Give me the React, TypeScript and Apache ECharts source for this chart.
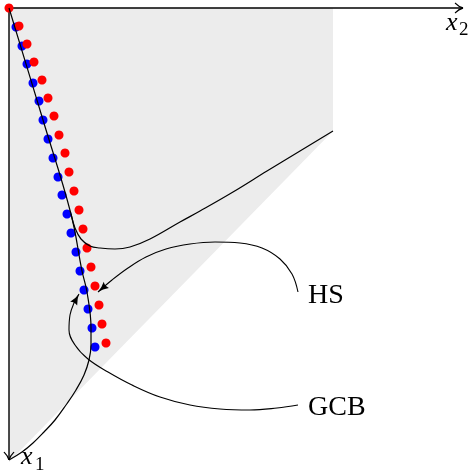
import { useEffect, useRef } from "react";
import * as echarts from "echarts";

// Data units: 1 unit = 10 px on both axes; x2 to the right, x1 downward, origin top-left.
const redX = [0, 1.0, 1.8, 2.5, 3.3, 3.9, 4.5, 5.0, 5.6, 6.0, 6.5, 7.0, 7.4, 7.8, 8.2, 8.6, 9.0, 9.3, 9.7];
const redY = [0, 1.8, 3.6, 5.4, 7.2, 9.0, 10.8, 12.7, 14.5, 16.4, 18.3, 20.2, 22.1, 24.0, 25.9, 27.8, 29.7, 31.6, 33.5];

const blueX = [0.7, 1.3, 1.8, 2.4, 3.0, 3.4, 3.9, 4.4, 4.9, 5.3, 5.8, 6.2, 6.7, 7.1, 7.5, 7.9, 8.3, 8.6];
const blueY = [1.9, 3.8, 5.6, 7.5, 9.3, 11.2, 13.1, 15.0, 16.9, 18.7, 20.6, 22.5, 24.4, 26.3, 28.2, 30.1, 32.0, 33.9];

// main boundary curve from the origin back to the end of the x1 axis
const mainX = [0, 3.4, 6.2, 7.3, 7.8, 8.2, 8.2, 8.0, 7.5, 6.7, 5.7, 4.6, 3.5, 2.4, 1.3, 0];
const mainY = [0, 11.2, 20.6, 26.3, 28.4, 32.0, 33.7, 35.2, 36.7, 38.2, 39.7, 41.2, 42.4, 43.5, 44.4, 45.2];

// curve branching off towards the corner of the shaded region
const branchX = [6.2, 6.6, 7.2, 8.1, 9.1, 10.6, 12.1, 14.1, 17.1, 19.1, 22.4, 25.8, 29.1, 32.4];
const branchY = [20.6, 22.0, 23.1, 23.8, 24.0, 24.1, 23.9, 23.1, 21.4, 20.3, 18.4, 16.3, 14.3, 12.3];

// shaded region: lower edge, filled up to x1 = 0
const shadeX = [0, 32.4];
const shadeY = [45.4, 12.3];

// annotation arrows (from label to tip)
const hsArrowX = [28.9, 28.3, 27.1, 25.3, 23.1, 20.6, 18.1, 15.7, 13.7, 11.9, 10.3, 8.9];
const hsArrowY = [28.4, 26.6, 25.1, 24.0, 23.5, 23.4, 23.6, 24.1, 24.9, 26.0, 27.2, 28.4];
const gcbArrowX = [28.9, 26.8, 24.1, 21.1, 18.1, 15.1, 12.3, 9.9, 7.9, 6.6, 6.0, 6.1, 6.5, 7.0];
const gcbArrowY = [39.7, 40.0, 40.2, 40.1, 39.7, 38.9, 37.7, 36.4, 35.1, 33.7, 32.2, 30.7, 29.5, 28.6];

const axisX2End = 45.4;
const axisX1End = 45.2;

const labelTexts = ["HS", "GCB"];
const axisNames = ["x", "2", "x", "1"];

const zip = (xs: number[], ys: number[]) => xs.map((x, i) => [x, ys[i]]);

const curveArrow = (xs: number[], ys: number[], len: number, wid: number) => {
  const n = xs.length;
  const dx = xs[n - 1] - xs[n - 2];
  const dy = ys[n - 1] - ys[n - 2];
  const L = Math.hypot(dx, dy);
  const ux = dx / L;
  const uy = dy / L;
  return {
    type: "scatter",
    data: [[xs[n - 1], ys[n - 1]]],
    symbol: "path://M5,0 Q6,6 10,12 Q5,9.5 0,12 Q4,6 5,0 Z",
    symbolSize: [wid, len],
    symbolRotate: (Math.atan2(-dx, -dy) * 180) / Math.PI,
    symbolOffset: [(-ux * len) / 2, (-uy * len) / 2],
    itemStyle: { color: "#000", opacity: 1 },
    silent: true,
    clip: false,
    z: 6,
  };
};

export default function App() {
  const ref = useRef<HTMLDivElement>(null);
  useEffect(() => {
    if (!ref.current) return;
    const chart = echarts.init(ref.current, undefined, { renderer: "svg" });
    const line = (xs: number[], ys: number[], w: number, z = 5) => ({
      type: "line",
      data: zip(xs, ys),
      smooth: 0.4,
      symbol: "none",
      lineStyle: { color: "#000", width: w },
      silent: true,
      clip: false,
      z,
    });
    const serif = "Liberation Serif";
    const txt = (x: number, y: number, text: string, size: number, italic = false) => ({
      type: "text",
      x,
      y,
      style: {
        text,
        fontFamily: serif,
        fontSize: size,
        fontStyle: italic ? "italic" : "normal",
        fill: "#000",
        verticalAlign: "middle",
      },
    });
    chart.setOption({
      animation: false,
      grid: { left: 0, top: 0, width: 476, height: 473 },
      xAxis: { type: "value", min: -0.9, max: 46.7, show: false },
      yAxis: { type: "value", min: -0.8, max: 46.5, inverse: true, show: false },
      series: [
        {
          type: "line",
          data: zip(shadeX, shadeY),
          symbol: "none",
          lineStyle: { width: 0 },
          areaStyle: { color: "#ececec", opacity: 1 },
          silent: true,
          clip: false,
          z: 1,
        },
        line([0, axisX2End], [0, 0], 1.4, 3),
        line([0, 0], [0, axisX1End], 1.4, 3),
        {
          type: "scatter",
          data: [[axisX2End, 0]],
          symbol: "path://M0,0 C3,3 6,4.5 8,5 C6,5.5 3,7 0,10",
          symbolSize: [8, 10],
          symbolOffset: [-4, 0],
          itemStyle: { color: "rgba(0,0,0,0)", borderColor: "#000", borderWidth: 1.2, opacity: 1 },
          silent: true,
          clip: false,
          z: 3,
        },
        {
          type: "scatter",
          data: [[0, axisX1End]],
          symbol: "path://M0,0 C3,3 4.5,6 5,8 C5.5,6 7,3 10,0",
          symbolSize: [10, 8],
          symbolOffset: [0, -4],
          itemStyle: { color: "rgba(0,0,0,0)", borderColor: "#000", borderWidth: 1.2, opacity: 1 },
          silent: true,
          clip: false,
          z: 3,
        },
        {
          type: "scatter",
          data: zip(blueX, blueY),
          symbolSize: 9,
          itemStyle: { color: "#0000ff", opacity: 1 },
          silent: true,
          clip: false,
          z: 4,
        },
        {
          type: "scatter",
          data: zip(redX, redY),
          symbolSize: 9,
          itemStyle: { color: "#ff0000", opacity: 1 },
          silent: true,
          clip: false,
          z: 4,
        },
        line(mainX, mainY, 1.2),
        line(branchX, branchY, 1.2),
        line(hsArrowX, hsArrowY, 1.1),
        line(gcbArrowX, gcbArrowY, 1.1),
        curveArrow(hsArrowX, hsArrowY, 11, 8),
        curveArrow(gcbArrowX, gcbArrowY, 11, 8),
      ],
      graphic: [
        txt(308, 293, labelTexts[0], 28),
        txt(308, 405, labelTexts[1], 28),
        txt(446, 21, axisNames[0], 26, true),
        txt(459, 28, axisNames[1], 19),
        txt(21, 455, axisNames[2], 26, true),
        txt(35, 463, axisNames[3], 19),
      ],
    });
    return () => chart.dispose();
  }, []);
  return <div ref={ref} style={{ position: "fixed", left: 0, top: 0, width: 476, height: 473 }} />;
}
